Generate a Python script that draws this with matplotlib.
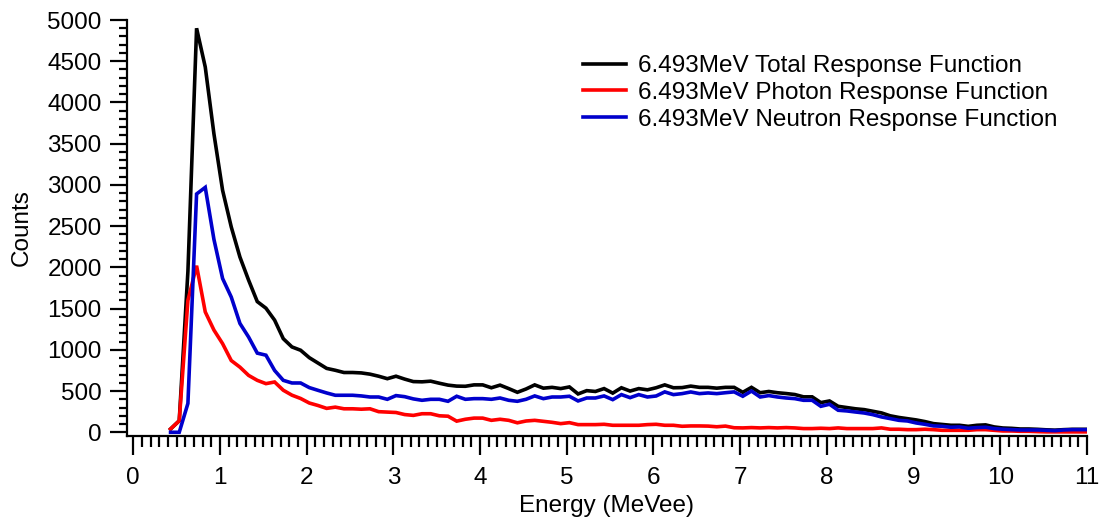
import numpy as np
import matplotlib
matplotlib.use('Agg')
import matplotlib.pyplot as plt
from matplotlib.ticker import MultipleLocator

plt.rcParams['font.family'] = ['Liberation Sans', 'DejaVu Sans']

# Energy grid (bin centres, MeVee)
energy_start = 0.43
energy_step = 0.1

photon = [40, 140, 1600, 2020, 1460, 1240, 1075, 870, 790, 690,
          630, 590, 610, 510, 450, 410, 355, 325, 290, 305,
          285, 285, 280, 285, 250, 245, 240, 215, 205, 225,
          225, 200, 195, 135, 158, 172, 172, 145, 158, 145,
          115, 137, 145, 133, 121, 105, 117, 93, 93, 93,
          97, 85, 85, 85, 85, 93, 97, 85, 85, 73,
          77, 77, 75, 67, 75, 55, 53, 57, 53, 57,
          53, 57, 53, 45, 45, 49, 45, 53, 45, 45,
          45, 45, 53, 37, 37, 32, 32, 37, 32, 24,
          24, 24, 24, 32, 32, 24, 16, 16, 12, 12,
          8, 5, 5, 5, 5, 5, 5]

neutron = [0, 0, 350, 2890, 2970, 2340, 1865, 1640, 1320, 1155,
           960, 935, 750, 630, 598, 598, 542, 509, 477, 449,
           449, 449, 441, 428, 428, 400, 445, 432, 405, 388,
           400, 400, 376, 437, 400, 408, 408, 400, 416, 388,
           376, 400, 441, 408, 428, 428, 437, 380, 416, 416,
           441, 396, 457, 420, 457, 428, 440, 490, 457, 469,
           489, 469, 477, 469, 480, 490, 437, 500, 428, 445,
           428, 416, 408, 388, 388, 315, 340, 267, 259, 246,
           234, 214, 186, 166, 145, 137, 113, 97, 77, 73,
           61, 65, 49, 57, 61, 45, 37, 32, 28, 28,
           28, 24, 20, 28, 32, 32, 32]

total = [40, 140, 1950, 4900, 4430, 3620, 2935, 2490, 2125, 1845,
         1585, 1505, 1360, 1135, 1035, 995, 905, 840, 775, 752,
         725, 725, 720, 705, 680, 650, 680, 645, 615, 612,
         620, 595, 572, 560, 558, 575, 575, 540, 572, 530,
         485, 525, 575, 535, 545, 530, 550, 465, 505, 495,
         530, 475, 540, 500, 530, 515, 540, 575, 540, 542,
         560, 545, 545, 535, 545, 545, 485, 545, 480, 495,
         480, 470, 458, 430, 430, 360, 380, 315, 300, 285,
         275, 255, 235, 200, 180, 165, 150, 130, 105, 95,
         85, 85, 72, 85, 90, 65, 52, 48, 40, 40,
         36, 30, 26, 32, 36, 36, 36]

series_labels = ['6.493MeV Total Response Function',
                 '6.493MeV Photon Response Function',
                 '6.493MeV Neutron Response Function']
series_colors = ['#000000', '#ff0000', '#0000cc']

x_ticks = list(range(0, 12))
y_ticks = list(range(0, 5001, 500))

energy = energy_start + energy_step * np.arange(len(total))

W, H = 1105, 519
fig = plt.figure(figsize=(W / 100, H / 100), dpi=100)
ax_left, ax_right, ax_top, ax_bottom = 126.7, 1087.0, 20.0, 436.0
ax = fig.add_axes([ax_left / W, 1 - ax_bottom / H,
                   (ax_right - ax_left) / W, (ax_bottom - ax_top) / H])

for vals, lab, col in zip([total, photon, neutron], series_labels, series_colors):
    ax.plot(energy, vals, color=col, lw=2.6, label=lab, solid_joinstyle='miter')

ax.set_xlim(-0.076, 11.0)
ax.set_ylim(-45, 5000)

ax.set_xticks(x_ticks)
ax.set_yticks(y_ticks)
ax.xaxis.set_minor_locator(MultipleLocator(0.1))
ax.yaxis.set_minor_locator(MultipleLocator(100))

for s in ['top', 'right']:
    ax.spines[s].set_visible(False)
for s in ['left', 'bottom']:
    ax.spines[s].set_linewidth(1.6)

fs = 17.5
ax.tick_params(axis='x', which='major', direction='out', length=14, width=1.6,
               pad=8, labelsize=fs)
ax.tick_params(axis='x', which='minor', direction='out', length=8, width=1.6)
ax.tick_params(axis='y', which='major', direction='out', length=12, width=1.6,
               pad=6, labelsize=fs)
ax.tick_params(axis='y', which='minor', direction='out', length=6, width=1.6)

ax.set_xlabel('Energy (MeVee)', fontsize=fs)
ax.set_ylabel('Counts', fontsize=fs)
ax.xaxis.set_label_coords(0.5, (ax_bottom - 495) / (ax_bottom - ax_top))
ax.yaxis.set_label_coords((33 - ax_left) / (ax_right - ax_left), 0.5)

leg = ax.legend(loc='upper left', bbox_to_anchor=(583 / W, 1 - 55 / H),
                bbox_transform=fig.transFigure, frameon=False, fontsize=fs,
                borderpad=0, borderaxespad=0, handlelength=1.75,
                handletextpad=0.5, labelspacing=0.2)

fig.savefig('out.png', dpi=100)
